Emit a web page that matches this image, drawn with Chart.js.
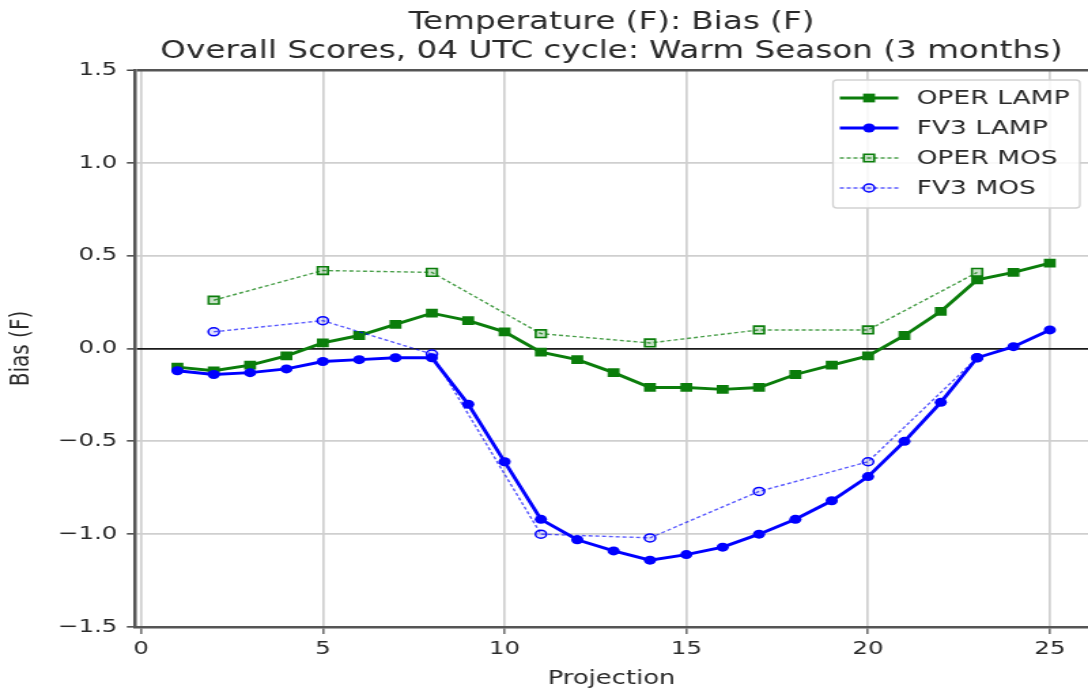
<!DOCTYPE html>
<html>
<head>
<meta charset="utf-8">
<script src="https://cdn.jsdelivr.net/npm/chart.js@4.4.0/dist/chart.umd.min.js"></script>
<style>
  html, body { margin: 0; padding: 0; background: #fff; overflow: hidden; }
  #wrap { width: 1088px; height: 694px; overflow: hidden; }
  /* the figure is drawn on an 800px-wide canvas and shown widened to the page */
  #c { display: block; width: 1088px !important; height: 694px !important; }
</style>
</head>
<body>
<div id="wrap"><canvas id="c" width="800" height="694"></canvas></div>
<script>
// Forecast projections (hours) and temperature bias (F)
const lampHours = [1, 2, 3, 4, 5, 6, 7, 8, 9, 10, 11, 12, 13, 14, 15, 16, 17, 18, 19, 20, 21, 22, 23, 24, 25];
const operLamp = [-0.10, -0.12, -0.09, -0.04, 0.03, 0.07, 0.13, 0.19, 0.15, 0.09, -0.02, -0.06, -0.13, -0.21, -0.21, -0.22, -0.21, -0.14, -0.09, -0.04, 0.07, 0.20, 0.37, 0.41, 0.46];
const fv3Lamp = [-0.12, -0.14, -0.13, -0.11, -0.07, -0.06, -0.05, -0.05, -0.30, -0.61, -0.92, -1.03, -1.09, -1.14, -1.11, -1.07, -1.00, -0.92, -0.82, -0.69, -0.50, -0.29, -0.05, 0.01, 0.10];
const mosHours = [2, 5, 8, 11, 14, 17, 20, 23];
const operMos = [0.26, 0.42, 0.41, 0.08, 0.03, 0.10, 0.10, 0.41];
const fv3Mos = [0.09, 0.15, -0.03, -1.00, -1.02, -0.77, -0.61, -0.05];

const seriesNames = ['OPER LAMP', 'FV3 LAMP', 'OPER MOS', 'FV3 MOS'];
const xTicks = [0, 5, 10, 15, 20, 25];
const yTicks = [-1.5, -1.0, -0.5, 0.0, 0.5, 1.0, 1.5];
const titleLines = ['Temperature (F): Bias (F)', 'Overall Scores, 04 UTC cycle: Warm Season (3 months)'];
const xAxisTitle = 'Projection';
const yAxisTitle = 'Bias (F)';

const FONT = '"DejaVu Sans", Verdana, sans-serif';
const GREEN = '#0b7d0b';
const BLUE = '#0000ff';
const TEXT = '#2a2a2a';
const GRID = '#cfcfcf';

const pts = (xs, ys) => xs.map((x, i) => ({ x: x, y: ys[i] }));
const fmt = v => v.toFixed(1).replace('-', '\u2212');

const datasets = [
  { label: seriesNames[0], data: pts(lampHours, operLamp), borderColor: GREEN, backgroundColor: GREEN,
    borderWidth: 2.9, pointStyle: 'rect', pointRadius: 6.2, pointBorderWidth: 0, order: 4 },
  { label: seriesNames[1], data: pts(lampHours, fv3Lamp), borderColor: BLUE, backgroundColor: BLUE,
    borderWidth: 2.9, pointStyle: 'circle', pointRadius: 4.5, pointBorderWidth: 0, order: 3 },
  { label: seriesNames[2], data: pts(mosHours, operMos), borderColor: 'rgba(11,125,11,0.75)', backgroundColor: 'rgba(11,125,11,0.22)',
    borderWidth: 1.4, borderDash: [3, 2], pointStyle: 'rect', pointRadius: 5.4, pointBorderWidth: 1.6,
    pointBorderColor: GREEN, order: 2 },
  { label: seriesNames[3], data: pts(mosHours, fv3Mos), borderColor: 'rgba(0,0,255,0.65)', backgroundColor: 'rgba(0,0,255,0.12)',
    borderWidth: 1.4, borderDash: [3, 2], pointStyle: 'circle', pointRadius: 4, pointBorderWidth: 1.5,
    pointBorderColor: BLUE, order: 1 }
];

// Titles and the in-plot legend box
const decorations = {
  id: 'decorations',
  afterDraw(chart) {
    const ctx = chart.ctx;
    ctx.save();
    ctx.fillStyle = TEXT;
    ctx.textAlign = 'center';
    ctx.textBaseline = 'alphabetic';
    ctx.font = '24px ' + FONT;
    const cx = (chart.chartArea.left + chart.chartArea.right) / 2;
    ctx.fillText(titleLines[0], cx, 28.5);
    ctx.fillText(titleLines[1], cx, 57.5);

    const bx = 612.5, by = 80, bw = 181.5, bh = 128;
    ctx.fillStyle = 'rgba(255,255,255,0.85)';
    ctx.strokeStyle = '#d2d2d2';
    ctx.lineWidth = 1.3;
    ctx.beginPath();
    ctx.roundRect(bx, by, bw, bh, 3);
    ctx.fill();
    ctx.stroke();
    chart.data.datasets.forEach((ds, i) => {
      const y = by + 18 + i * 30;
      const mx = bx + 26.5;
      ctx.save();
      ctx.strokeStyle = ds.borderColor;
      ctx.lineWidth = ds.borderWidth;
      ctx.setLineDash(ds.borderDash || []);
      ctx.beginPath();
      ctx.moveTo(bx + 5, y);
      ctx.lineTo(bx + 48, y);
      ctx.stroke();
      ctx.setLineDash([]);
      ctx.fillStyle = ds.backgroundColor;
      ctx.strokeStyle = ds.pointBorderColor || ds.borderColor;
      ctx.lineWidth = ds.pointBorderWidth;
      ctx.beginPath();
      if (ds.pointStyle === 'rect') {
        const s = ds.pointRadius * Math.SQRT1_2;
        ctx.rect(mx - s, y - s, 2 * s, 2 * s);
      } else {
        ctx.arc(mx, y, ds.pointRadius, 0, Math.PI * 2);
      }
      ctx.fill();
      if (ds.pointBorderWidth) ctx.stroke();
      ctx.restore();
      ctx.fillStyle = TEXT;
      ctx.textAlign = 'left';
      ctx.textBaseline = 'middle';
      ctx.font = '19.5px ' + FONT;
      ctx.fillText(ds.label, bx + 61.5, y + 1);
    });
    ctx.restore();
  }
};

new Chart(document.getElementById('c'), {
  type: 'line',
  data: { datasets: datasets },
  plugins: [decorations],
  options: {
    responsive: false,
    animation: false,
    devicePixelRatio: 1,
    layout: { autoPadding: false, padding: { top: 70, right: 0, bottom: 0, left: 0 } },
    plugins: { legend: { display: false }, title: { display: false }, tooltip: { enabled: false } },
    scales: {
      x: {
        type: 'linear',
        min: -0.165,
        max: 26.05,
        afterBuildTicks: s => { s.ticks = xTicks.map(v => ({ value: v })); },
        afterFit: s => { s.height = 67; },
        ticks: { color: TEXT, font: { family: FONT, size: 18 }, padding: 5, maxRotation: 0, autoSkip: false, callback: v => String(v) },
        grid: { color: GRID, lineWidth: 1.7, tickLength: 7, tickColor: '#444', tickWidth: 1.2 },
        border: { color: '#555', width: 2.5 },
        title: { display: true, text: xAxisTitle, color: TEXT, font: { family: FONT, size: 19 }, padding: { top: 0, bottom: 4 } }
      },
      y: {
        type: 'linear',
        min: -1.5,
        max: 1.5,
        afterBuildTicks: s => { s.ticks = yTicks.map(v => ({ value: v })); },
        afterFit: s => { s.width = 99.3; },
        ticks: { color: TEXT, font: { family: FONT, size: 18 }, padding: 7, autoSkip: false, callback: v => fmt(v) },
        grid: {
          color: c => c.tick && c.tick.value === 0 ? '#1a1a1a' : (c.tick && c.tick.value === 1.5 ? '#555' : GRID),
          lineWidth: c => c.tick && c.tick.value === 0 ? 1.8 : (c.tick && c.tick.value === 1.5 ? 2.5 : 1.7),
          tickLength: 6, tickColor: '#444', tickWidth: 1.5
        },
        border: { color: '#555', width: 2.5 },
        title: { display: true, text: yAxisTitle, color: TEXT, font: { family: FONT, size: 20 }, padding: { top: 4, bottom: 0 } }
      }
    }
  }
});
</script>
</body>
</html>
